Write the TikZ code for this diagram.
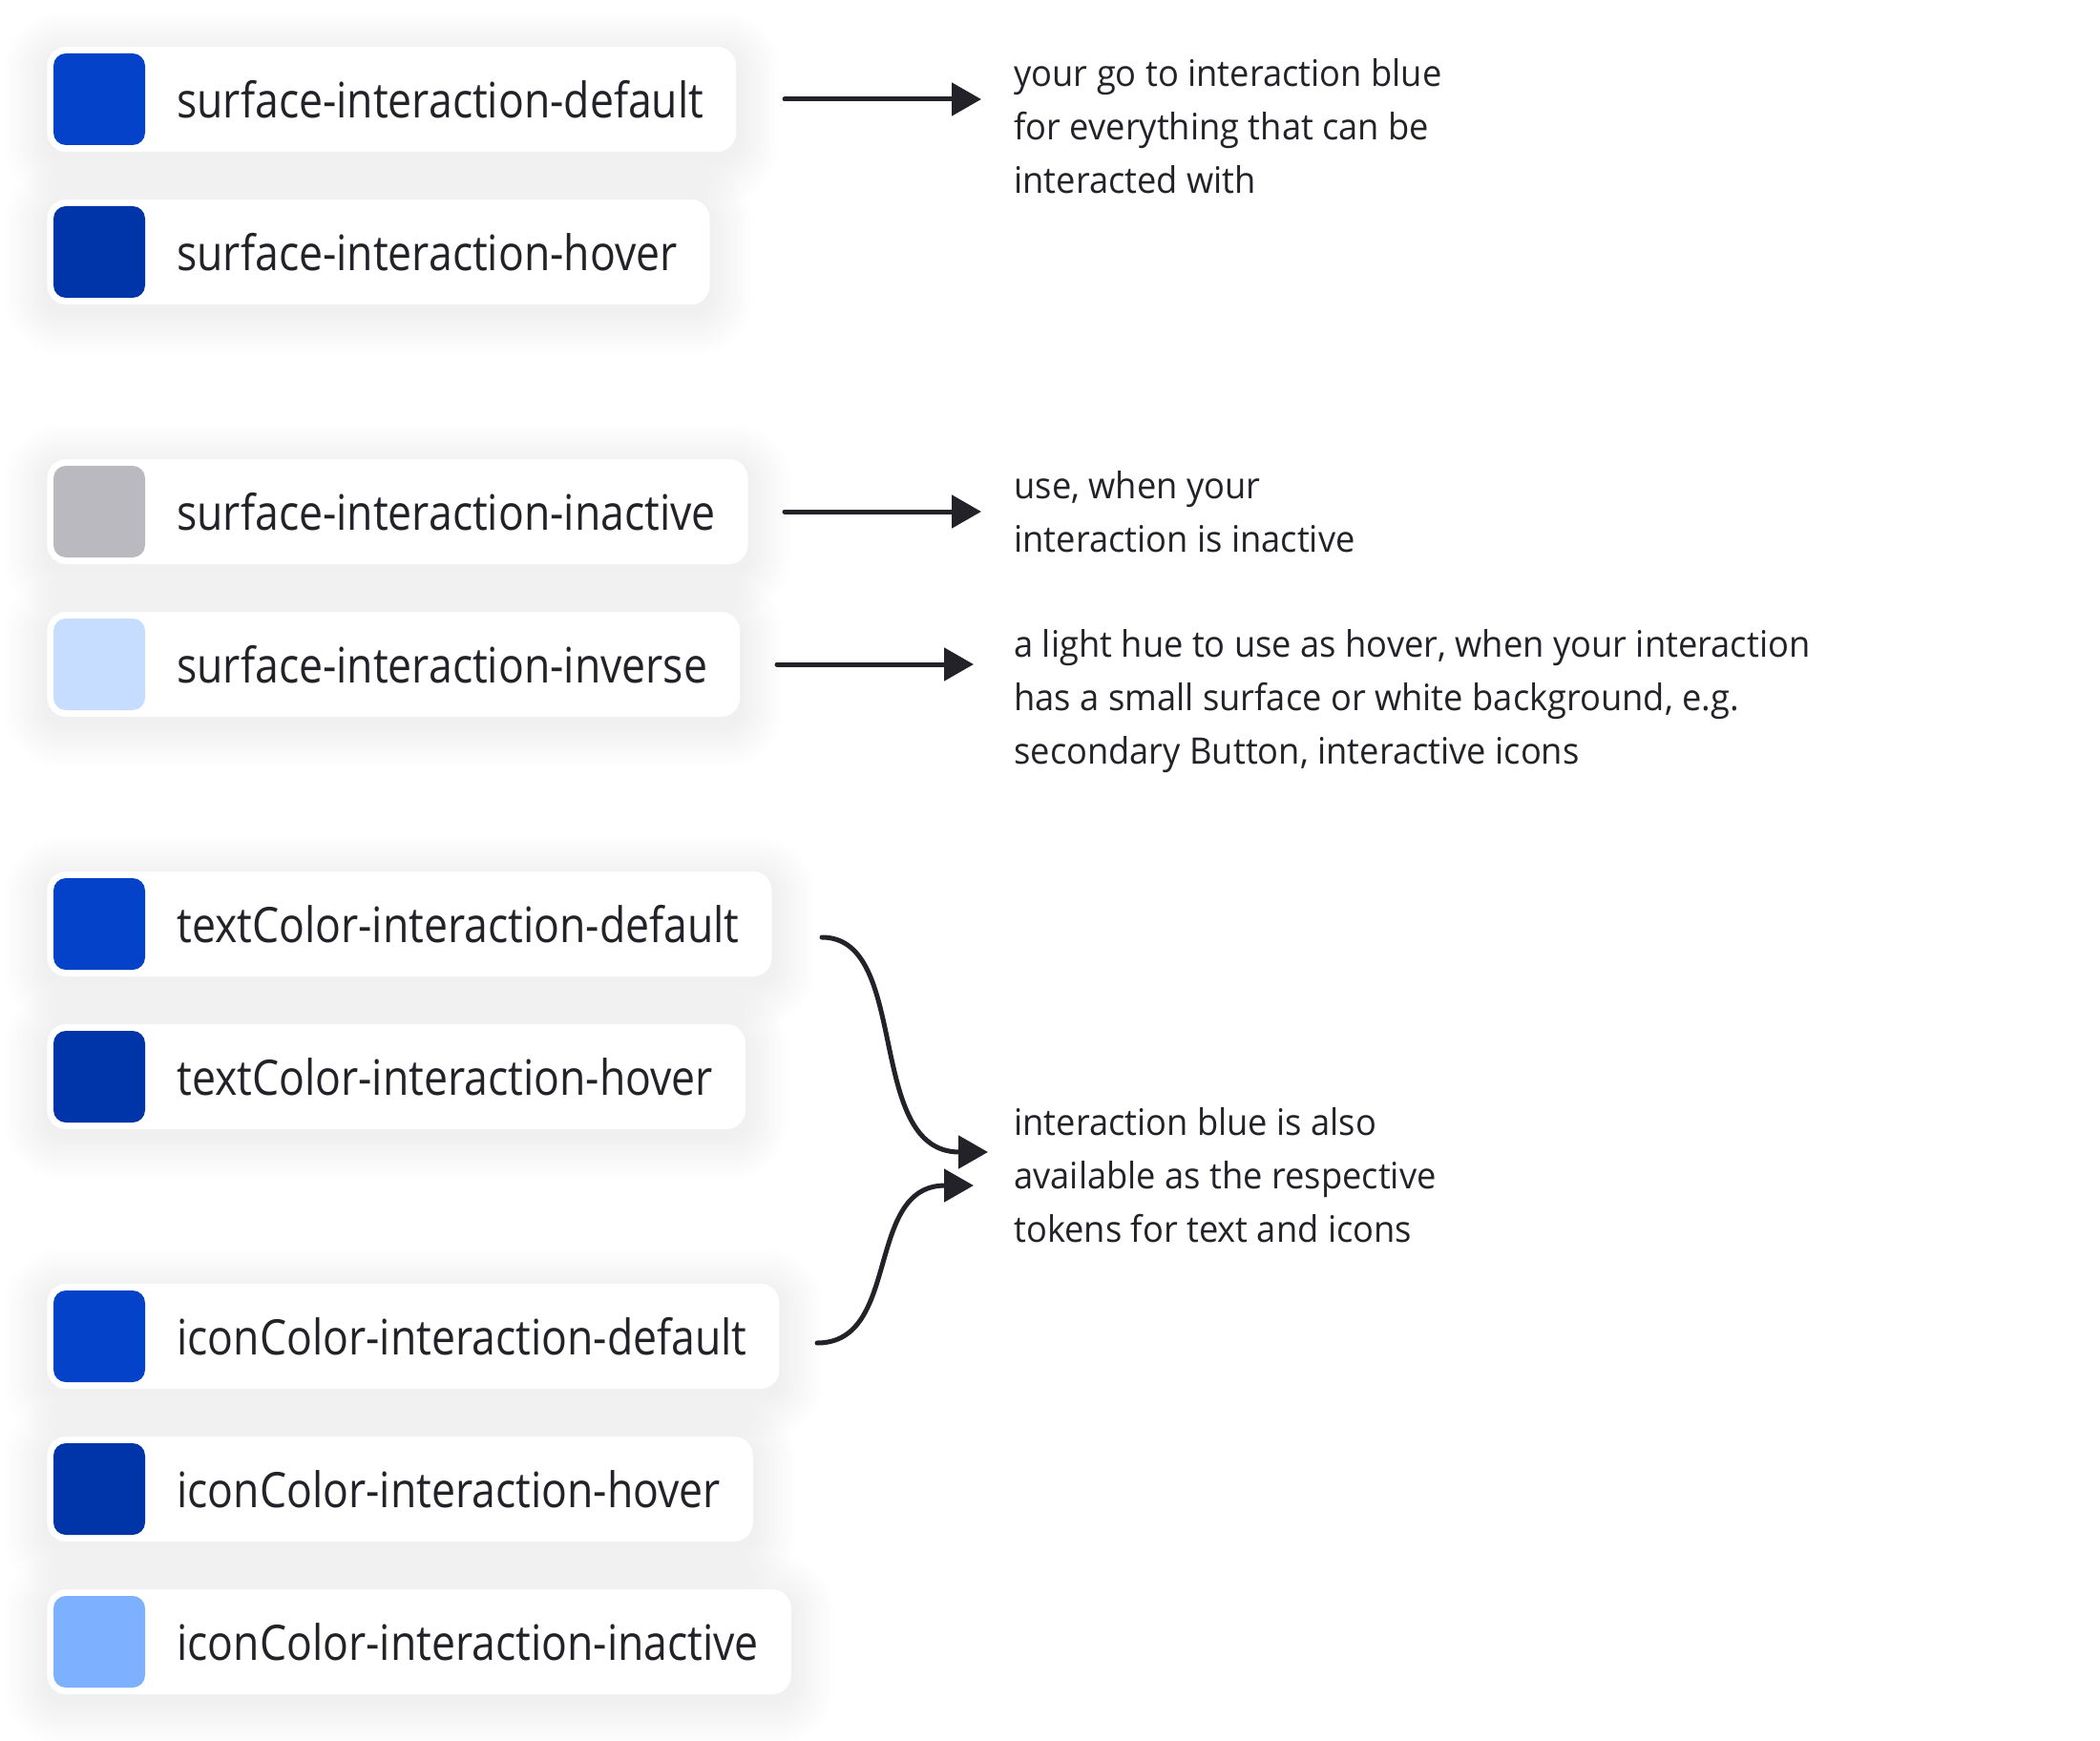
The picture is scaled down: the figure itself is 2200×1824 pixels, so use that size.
\documentclass[tikz,border=0pt]{standalone}
\usepackage{fontspec}
\setmainfont{Open Sans}
\newfontfamily\cardfont{Open Sans}[FakeStretch=0.87]
\newfontfamily\notefont{Open Sans}[FakeStretch=0.95]
\usetikzlibrary{arrows.meta}
\pgfdeclarelayer{bglayer}
\pgfdeclarelayer{shadowlayer}
\pgfsetlayers{bglayer,shadowlayer,main}
\definecolor{ink}{HTML}{222228}
\definecolor{bluedef}{HTML}{0443C9}
\definecolor{bluehov}{HTML}{0035A9}
\definecolor{grayin}{HTML}{B9B9BF}
\definecolor{bluelight}{HTML}{C6DDFF}
\definecolor{bluemid}{HTML}{7DB0FF}
\tikzset{
  cardbox/.style={fill=white, rounded corners=10pt, minimum height=55pt, inner xsep=0pt, inner ysep=0pt,
    anchor=west, font=\cardfont\fontsize{25.6}{30}\selectfont, text=ink},
  swatch/.style={minimum size=48pt, inner sep=0pt, rounded corners=6.5pt},
  note/.style={anchor=north west, inner sep=0pt, align=left, text=ink, font=\notefont\fontsize{19.1}{28}\selectfont},
  conn/.style={draw=ink, line width=2.5pt, line cap=round, -{Triangle[length=15.5pt,width=17pt]}},
}
\newcommand\cardshade[1]{%
  \begin{pgfonlayer}{shadowlayer}
  \foreach \k in {1,...,15}{%
    \pgfmathsetmacro\rr{10+\k*1.4}
    \fill[black, opacity=0.0045, rounded corners=\rr pt]
      ([shift={(-\k*3,-\k*3+8)}]#1.north west) rectangle ([shift={(\k*3,\k*3+8)}]#1.south east);
  }
  \end{pgfonlayer}}
\newcommand\tokencard[4]{% name, y, colour, text
  \node[cardbox] (#1) at (49,#2) {\hspace*{68pt}#4\hspace*{17pt}};
  \node[swatch, fill=#3] (#1s) at (104,#2) {};
  \cardshade{#1}}
\begin{document}
\begin{tikzpicture}[x=0.5pt,y=-0.5pt]
\begin{pgfonlayer}{bglayer}
\fill[white] (0,0) rectangle (2200,1824);
\end{pgfonlayer}
\useasboundingbox (0,0) rectangle (2200,1824);

\tokencard{c1}{104}{bluedef}{surface-interaction-default}
\tokencard{c2}{264}{bluehov}{surface-interaction-hover}
\tokencard{c3}{536}{grayin}{surface-interaction-inactive}
\tokencard{c4}{696}{bluelight}{surface-interaction-inverse}
\tokencard{c5}{968}{bluedef}{textColor-interaction-default}
\tokencard{c6}{1128}{bluehov}{textColor-interaction-hover}
\tokencard{c7}{1400}{bluedef}{iconColor-interaction-default}
\tokencard{c8}{1560}{bluehov}{iconColor-interaction-hover}
\tokencard{c9}{1720}{bluemid}{iconColor-interaction-inactive}

\node[note] (a1) at (1062,61) {your go to interaction blue\\for everything that can be\\interacted with};
\node[note] (a2) at (1062,493) {use, when your\\interaction is inactive};
\node[note] (a3) at (1062,659) {a light hue to use as hover, when your interaction\\has a small surface or white background, e.g.\\secondary Button, interactive icons};
\node[note] (a4) at (1062,1160) {interaction blue is also\\available as the respective\\tokens for text and icons};

\coordinate (xs1) at (822,0);
\coordinate (xe1) at (1028,0);
\coordinate (xs3) at (814,0);
\coordinate (xe3) at (1020,0);
\draw[conn] (c1.east -| xs1) -- (c1.east -| xe1);
\draw[conn] (c3.east -| xs1) -- (c3.east -| xe1);
\draw[conn] (c4.east -| xs3) -- (c4.east -| xe3);

\coordinate (k1s) at (861,982);
\coordinate (k1e) at (1035,1207);
\coordinate (k2s) at (856,1407);
\coordinate (k2e) at (1020,1242);
\draw[conn] (k1s) .. controls (955,982) and (905,1207) .. (k1e);
\draw[conn] (k2s) .. controls (945,1407) and (905,1242) .. (k2e);
\end{tikzpicture}
\end{document}
